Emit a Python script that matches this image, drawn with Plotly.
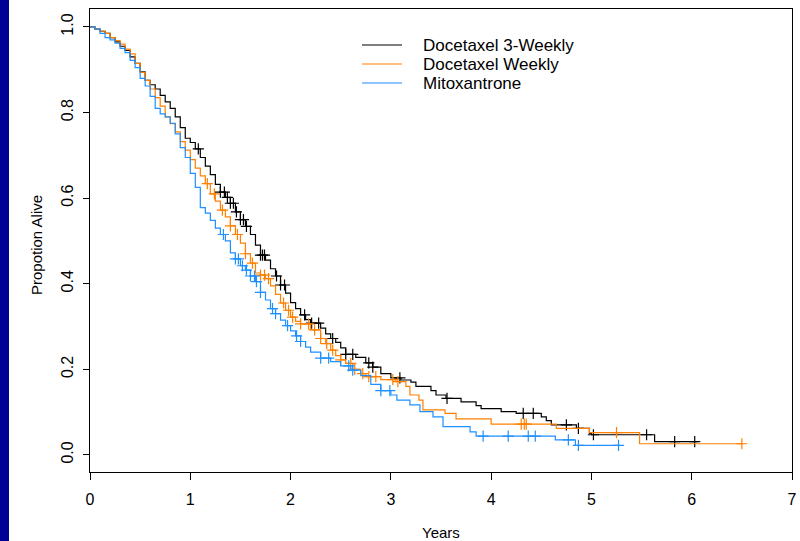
import numpy as np
import plotly.graph_objects as go

# ---------------- data ----------------
series_names = ["Docetaxel 3-Weekly", "Docetaxel Weekly", "Mitoxantrone"]

black_t = [0, 0.05, 0.1, 0.15, 0.2, 0.25, 0.3, 0.35, 0.4, 0.45, 0.5, 0.55, 0.6, 0.65, 0.7, 0.75,
           0.8, 0.85, 0.9, 0.95, 1.0, 1.05, 1.1, 1.15, 1.2, 1.25, 1.3, 1.35, 1.4, 1.45, 1.5, 1.55,
           1.6, 1.65, 1.7, 1.75, 1.8, 1.85, 1.9, 1.95, 2.0, 2.05, 2.1, 2.15, 2.2, 2.3, 2.35, 2.4,
           2.45, 2.5, 2.55, 2.65, 2.75, 2.82, 2.9, 3.0, 3.1, 3.2, 3.25, 3.4, 3.45, 3.55, 3.7,
           3.85, 3.9, 4.1, 4.25, 4.5, 4.55, 4.6, 4.85, 4.98, 5.0, 5.63, 6.06]
black_s = [1.0, 0.995, 0.99, 0.985, 0.975, 0.965, 0.955, 0.945, 0.93, 0.915, 0.895, 0.875, 0.865,
           0.855, 0.84, 0.825, 0.81, 0.79, 0.765, 0.74, 0.73, 0.715, 0.695, 0.675, 0.655, 0.632,
           0.614, 0.602, 0.588, 0.568, 0.55, 0.534, 0.515, 0.49, 0.467, 0.455, 0.435, 0.418, 0.397,
           0.378, 0.356, 0.342, 0.327, 0.316, 0.308, 0.296, 0.283, 0.272, 0.263, 0.25, 0.235,
           0.228, 0.215, 0.205, 0.19, 0.18, 0.175, 0.17, 0.16, 0.15, 0.14, 0.132, 0.124, 0.115,
           0.108, 0.101, 0.097, 0.089, 0.08, 0.07, 0.062, 0.05, 0.047, 0.031, 0.031]
black_cens = [1.08, 1.30, 1.34, 1.37, 1.40, 1.43, 1.46, 1.50, 1.53, 1.56, 1.70, 1.72, 1.74, 1.86,
              1.90, 1.94, 2.14, 2.21, 2.28, 2.42, 2.55, 2.62, 2.78, 2.82, 3.09, 3.56, 4.32, 4.42,
              4.75, 4.87, 5.02, 5.55, 5.83, 6.03]

orange_t = [0, 0.05, 0.1, 0.15, 0.2, 0.25, 0.3, 0.35, 0.4, 0.45, 0.5, 0.55, 0.6, 0.65, 0.7, 0.75,
            0.8, 0.85, 0.9, 0.95, 1.0, 1.05, 1.1, 1.15, 1.2, 1.25, 1.3, 1.35, 1.4, 1.45, 1.5, 1.55,
            1.6, 1.65, 1.7, 1.75, 1.8, 1.85, 1.9, 1.95, 2.0, 2.05, 2.1, 2.2, 2.3, 2.35, 2.4, 2.45,
            2.5, 2.55, 2.62, 2.7, 2.75, 2.9, 3.05, 3.15, 3.19, 3.28, 3.32, 3.54, 3.65, 4.0, 4.65,
            4.98, 5.48, 6.51]
orange_s = [1.0, 0.995, 0.99, 0.985, 0.975, 0.968, 0.96, 0.948, 0.937, 0.915, 0.894, 0.875, 0.855,
            0.835, 0.815, 0.79, 0.774, 0.755, 0.732, 0.712, 0.69, 0.67, 0.652, 0.634, 0.61, 0.593,
            0.572, 0.556, 0.535, 0.515, 0.495, 0.47, 0.448, 0.425, 0.42, 0.412, 0.395, 0.375,
            0.355, 0.338, 0.322, 0.312, 0.306, 0.292, 0.272, 0.26, 0.245, 0.232, 0.222, 0.214,
            0.2, 0.19, 0.183, 0.176, 0.171, 0.16, 0.14, 0.128, 0.105, 0.097, 0.084, 0.072, 0.062,
            0.052, 0.026, 0.026]
orange_cens = [1.17, 1.24, 1.32, 1.40, 1.47, 1.55, 1.62, 1.70, 1.74, 1.78, 1.93, 1.98, 2.02, 2.10,
               2.18, 2.24, 2.30, 2.36, 2.42, 2.50, 2.60, 2.64, 2.72, 2.78, 2.85, 3.02, 3.07, 4.30,
               4.33, 4.35, 5.25, 6.50]

blue_t = [0, 0.05, 0.1, 0.15, 0.2, 0.25, 0.3, 0.35, 0.4, 0.45, 0.5, 0.55, 0.6, 0.65, 0.7, 0.75,
          0.8, 0.85, 0.9, 0.95, 1.0, 1.05, 1.1, 1.15, 1.2, 1.25, 1.3, 1.35, 1.4, 1.45, 1.5, 1.55,
          1.6, 1.65, 1.7, 1.75, 1.8, 1.85, 1.9, 1.95, 2.0, 2.05, 2.1, 2.15, 2.2, 2.3, 2.4, 2.5,
          2.6, 2.7, 2.8, 2.9, 3.0, 3.06, 3.19, 3.29, 3.42, 3.52, 3.79, 3.85, 4.64, 4.84, 5.28]
blue_s = [1.0, 0.995, 0.985, 0.975, 0.97, 0.962, 0.95, 0.94, 0.922, 0.905, 0.88, 0.862, 0.838,
          0.81, 0.797, 0.79, 0.775, 0.75, 0.718, 0.695, 0.658, 0.625, 0.578, 0.565, 0.548, 0.53,
          0.515, 0.5, 0.472, 0.458, 0.442, 0.432, 0.418, 0.405, 0.38, 0.362, 0.342, 0.33, 0.315,
          0.302, 0.29, 0.278, 0.265, 0.252, 0.24, 0.226, 0.218, 0.208, 0.198, 0.185, 0.165,
          0.15, 0.14, 0.128, 0.117, 0.101, 0.089, 0.066, 0.054, 0.044, 0.035, 0.022, 0.022]
blue_cens = [1.33, 1.45, 1.48, 1.52, 1.56, 1.60, 1.64, 1.66, 1.70, 1.82, 1.85, 1.97, 2.06, 2.10,
             2.30, 2.38, 2.58, 2.62, 2.90, 2.99, 3.92, 4.17, 4.37, 4.44, 4.77, 4.87, 5.27]

x_ticks = [0, 1, 2, 3, 4, 5, 6, 7]
y_ticks = [0.0, 0.2, 0.4, 0.6, 0.8, 1.0]
y_tick_text = ["0.0", "0.2", "0.4", "0.6", "0.8", "1.0"]

colors = ["#000000", "#FF8000", "#1E90FF"]
FONT = "Liberation Sans, Arial, sans-serif"

# ---------------- figure ----------------
fig = go.Figure()

curves = [(black_t, black_s, black_cens), (orange_t, orange_s, orange_cens), (blue_t, blue_s, blue_cens)]
for (t, s, c), name, col in zip(curves, series_names, colors):
    t = np.asarray(t, float)
    s = np.asarray(s, float)
    c = np.asarray(c, float)
    fig.add_trace(go.Scatter(x=t, y=s, mode="lines", line=dict(color=col, width=1.2, shape="hv"),
                             name=name, showlegend=False, hoverinfo="skip"))
    idx = np.searchsorted(t, c, side="right") - 1
    fig.add_trace(go.Scatter(x=c, y=s[idx], mode="markers",
                             marker=dict(symbol="cross-thin", size=8, line=dict(color=col, width=1.2)),
                             showlegend=False, hoverinfo="skip"))

# plot-area geometry in pixels
L, R, T, B = 90, 8, 9, 69
W, H = 800, 541
pw, ph = W - L - R, H - T - B

def px_x(p):
    return (p - L) / pw

def px_y(p):
    return (H - B - p) / ph

# manual legend (key lines + labels)
leg_x0, leg_x1, leg_text_x = 362, 402, 421
leg_y = [45, 64, 83]
for name, col, yy in zip(series_names, colors, leg_y):
    fig.add_shape(type="line", xref="paper", yref="paper",
                  x0=px_x(leg_x0), x1=px_x(leg_x1), y0=px_y(yy), y1=px_y(yy),
                  line=dict(color=col, width=1.2))
    fig.add_annotation(xref="paper", yref="paper", x=px_x(leg_text_x), y=px_y(yy),
                       text=name, showarrow=False, xanchor="left", yanchor="middle",
                       font=dict(family=FONT, size=17, color="#000000"))

# axis titles
fig.add_annotation(xref="paper", yref="paper", x=px_x(441), y=px_y(532), text="Years",
                   showarrow=False, xanchor="center", yanchor="middle",
                   font=dict(family=FONT, size=15, color="#000000"))
fig.add_annotation(xref="paper", yref="paper", x=px_x(36), y=px_y(245), text="Propotion Alive",
                   showarrow=False, xanchor="center", yanchor="middle", textangle=-90,
                   font=dict(family=FONT, size=15, color="#000000"))

# navy strip at the left edge
fig.add_shape(type="rect", xref="paper", yref="paper", layer="below",
              x0=px_x(0), x1=px_x(9), y0=px_y(H), y1=px_y(0),
              fillcolor="#000094", line=dict(width=0))

fig.update_layout(
    width=W, height=H,
    margin=dict(l=L, r=R, t=T, b=B, autoexpand=False),
    paper_bgcolor="white", plot_bgcolor="white",
    font=dict(family=FONT, size=16, color="#000000"),
    showlegend=False,
)
fig.update_xaxes(range=[0, 7], tickvals=x_ticks, ticks="outside", ticklen=7, tickcolor="#000000",
                 tickwidth=1, showline=True, linecolor="#000000", linewidth=1, mirror=True,
                 showgrid=False, zeroline=False, tickfont=dict(size=16), automargin=False,
                 ticklabelstandoff=6)
fig.update_yaxes(range=[-0.04, 1.042], tickvals=y_ticks, ticktext=y_tick_text, ticks="outside",
                 ticklen=6, tickcolor="#000000", tickwidth=1, showline=True, linecolor="#000000",
                 linewidth=1, mirror=True, showgrid=False, zeroline=False, tickangle=-90,
                 tickfont=dict(size=16), automargin=False, ticklabelstandoff=4)

fig.write_html("out.html", config={"displayModeBar": False},
               post_script="document.body.style.margin='0px';document.body.style.overflow='hidden';")
